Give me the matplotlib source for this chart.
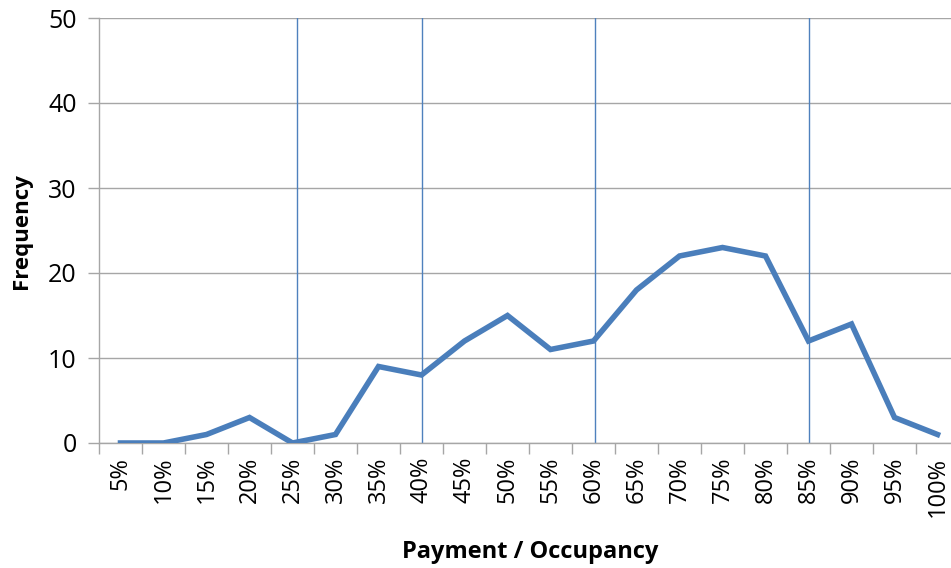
import numpy as np
import matplotlib.pyplot as plt

categories = ["5%", "10%", "15%", "20%", "25%", "30%", "35%", "40%", "45%", "50%",
              "55%", "60%", "65%", "70%", "75%", "80%", "85%", "90%", "95%", "100%"]
frequency = [0, 0, 1, 3, 0, 1, 9, 8, 12, 15, 11, 12, 18, 22, 23, 22, 12, 14, 3, 1]
marker_lines = [4.1, 7.0, 11.03, 16.0]

plt.rcParams['font.family'] = ['Open Sans', 'DejaVu Sans']

fig = plt.figure(figsize=(9.51, 5.68), dpi=100)
ax = fig.add_axes([99 / 951, 125 / 568, 860 / 951, 425 / 568])

x = np.arange(len(categories))
for xv in marker_lines:
    ax.axvline(xv, color="#4f81bd", lw=1.0, zorder=2)
ax.plot(x, frequency, color="#4a7ebb", lw=4.0, solid_joinstyle="miter", zorder=3)

ax.set_xlim(-0.5, len(categories) - 0.5)
ax.set_ylim(0, 50)
ax.set_yticks(range(0, 51, 10))
ax.yaxis.grid(True, color="#a6a6a6", lw=1.0)
ax.set_axisbelow(True)

ax.set_xticks(x)
ax.set_xticklabels(categories, rotation=90, fontsize=17)
ax.set_xticks(np.arange(-0.5, len(categories), 1), minor=True)
ax.tick_params(axis="x", which="major", length=0, pad=10)
ax.tick_params(axis="x", which="minor", length=8, color="#a6a6a6", width=1)
ax.tick_params(axis="y", length=8, color="#a6a6a6", width=1, labelsize=18, pad=8)

for side in ["top", "right"]:
    ax.spines[side].set_visible(False)
for side in ["left", "bottom"]:
    ax.spines[side].set_color("#a6a6a6")
    ax.spines[side].set_linewidth(1.0)

fig.text(21 / 951, 1 - 231 / 568, "Frequency", fontsize=16, fontweight="bold",
         rotation=90, ha="center", va="center")
fig.text(530 / 951, 1 - 552 / 568, "Payment / Occupancy", fontsize=17,
         fontweight="bold", ha="center", va="center")

fig.savefig("out.png", dpi=100)
